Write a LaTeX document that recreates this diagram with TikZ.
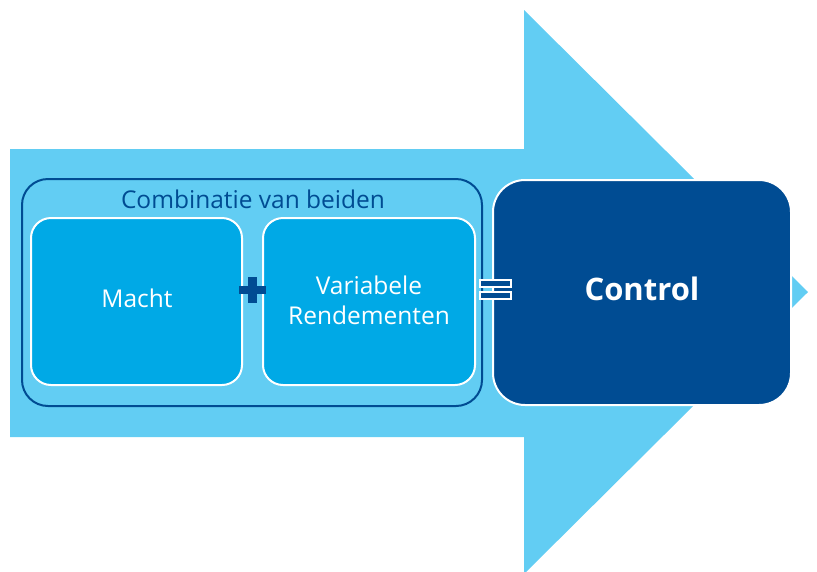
\documentclass[tikz,border=0pt]{standalone}
\usepackage{fontspec}
\setmainfont{Open Sans}
\definecolor{arrowblue}{HTML}{62CDF3}
\definecolor{midblue}{HTML}{00A9E6}
\definecolor{darkblue}{HTML}{004C93}
\begin{document}
\begin{tikzpicture}[x=1pt,y=-1pt,
  partbox/.style={draw=white,line width=2pt,fill=midblue,rounded corners=20pt},
  groupbox/.style={draw=darkblue,line width=2pt,rounded corners=26pt},
  resultbox/.style={draw=white,line width=2pt,fill=darkblue,rounded corners=32pt},
  parttext/.style={text=white,font=\fontsize{24.5}{30}\selectfont,align=center},
  symbolbar/.style={fill=darkblue},
  eqbar/.style={fill=darkblue,draw=white,line width=1.5pt}]
\useasboundingbox (0,0) rectangle (817,571);
% big arrow in the background
\fill[arrowblue] (10,149) -- (524,149) -- (524,10) -- (808,292) -- (524,574)
  -- (524,437) -- (10,437) -- cycle;
% group frame with its caption
\draw[groupbox] (22,179) rectangle (482,406);
\node[text=darkblue,font=\fontsize{24.5}{28}\selectfont] (caption) at (253,199) {Combinatie van beiden};
% the two parts
\draw[partbox] (31,218) rectangle (242,385);
\node[parttext] (macht) at (137,298) {Macht};
\draw[partbox] (263,218) rectangle (475,385);
\node[parttext] (rend) at (369,300) {Variabele\\Rendementen};
% plus sign
\fill[symbolbar] (239,286) rectangle (266,294);
\fill[symbolbar] (248,277) rectangle (257,303);
% result box
\draw[resultbox] (493,180) rectangle (791,405);
\node[text=white,font=\bfseries\fontsize{31}{36}\selectfont] (control) at (642,289) {Control};
% equals sign
\draw[eqbar] (480,280) rectangle (511,287);
\draw[eqbar] (480,292) rectangle (511,299);
\end{tikzpicture}
\end{document}
